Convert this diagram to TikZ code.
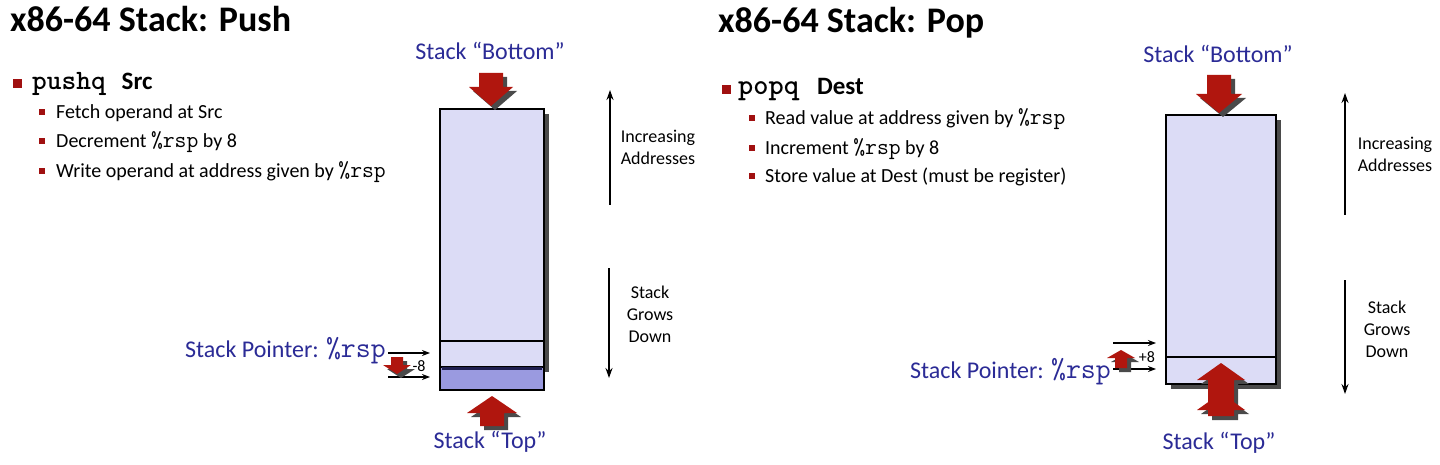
\documentclass[tikz,border=0pt]{standalone}
\usepackage{fontspec}
\setmainfont{Carlito}
\usetikzlibrary{arrows.meta,shadows}
\definecolor{labblue}{HTML}{2B2B96}
\definecolor{arrred}{HTML}{B0160E}
\definecolor{bulred}{HTML}{A01010}
\definecolor{boxfill}{HTML}{DCDCF6}
\definecolor{newfill}{HTML}{9A9AE0}
\definecolor{shadowgray}{HTML}{4A4A4A}
\definecolor{navyband}{HTML}{1E1E50}
\tikzset{
  titletext/.style={anchor=base west, inner sep=0pt, font=\fontsize{36}{40}\selectfont\bfseries},
  headtext/.style={anchor=base west, inner sep=0pt},
  subtext/.style={anchor=base west, inner sep=0pt, font=\fontsize{20}{24}\selectfont},
  bigbullet/.style={fill=bulred, inner sep=0pt, minimum size=9pt},
  smallbullet/.style={fill=bulred, inner sep=0pt, minimum size=6pt},
  bluelab/.style={inner sep=0pt, text=labblue, font=\fontsize{24}{28}\selectfont},
  sidelab/.style={inner sep=0pt, align=center, font=\fontsize{18}{22}\selectfont},
  smalllab/.style={inner sep=0pt, font=\fontsize{16}{18}\selectfont},
  stackbox/.style={draw=black, line width=1.8pt, fill=boxfill, inner sep=0pt, anchor=north west},
  boxshadow/.style={drop shadow={shadow xshift=5pt, shadow yshift=-5pt, fill=shadowgray, opacity=1}},
  ptr/.style={line width=1.6pt, -{Stealth[length=8pt,width=6pt]}},
  vert/.style={line width=1.8pt, -{Stealth[length=10pt,width=7pt]}},
  divline/.style={line width=1.8pt},
  pics/blockarrow/.style args={#1/#2/#3/#4}{code={
    \begin{scope}[shift={(4,4)}]
      \fill[shadowgray] (0,0) -- (#1,#2) -- (#3,#2) -- (#3,#4) -- (-#3,#4) -- (-#3,#2) -- (-#1,#2) -- cycle;
    \end{scope}
    \fill[arrred] (0,0) -- (#1,#2) -- (#3,#2) -- (#3,#4) -- (-#3,#4) -- (-#3,#2) -- (-#1,#2) -- cycle;
  }},
}
\newcommand{\mrsp}[1]{{\ttfamily\fontsize{#1}{#1}\selectfont\%rsp}}
\begin{document}
\begin{tikzpicture}[x=1pt,y=-1pt]
\useasboundingbox[fill=white] (0,0) rectangle (1440,465);

%%%%%%%%%%%%%%%% PUSH %%%%%%%%%%%%%%%%
\node[titletext] (ptitle) at (10,32) {x86-64 Stack: Push};
\node[bigbullet] (pbul) at (17,84) {};
\node[headtext] (phead) at (32,90) {{\ttfamily\bfseries\fontsize{28}{30}\selectfont pushq}\hspace{16pt}{\bfseries\fontsize{25}{28}\selectfont Src}};
\node[smallbullet] (pb1) at (42,112) {};
\node[subtext] (pt1) at (56,119) {Fetch operand at Src};
\node[smallbullet] (pb2) at (42,141) {};
\node[subtext] (pt2) at (56,148) {Decrement \mrsp{23} by 8};
\node[smallbullet] (pb3) at (42,171) {};
\node[subtext] (pt3) at (56,178) {Write operand at address given by \mrsp{23}};

% stack box
\node[stackbox, boxshadow, minimum width=104pt, minimum height=258pt] (pbox) at (439,108) {};
\node[stackbox, fill=newfill, minimum width=104pt, minimum height=23pt] (pnew) at (439,366) {};
\fill[navyband] (442,367) rectangle (542,370);
\draw[divline] (439,341) -- (543,341);

\node[bluelab, anchor=base] (pbot) at (490,60) {Stack “Bottom”};
\node[bluelab, anchor=base] (ptop) at (490,448) {Stack “Top”};
\pic at (491,106) {blockarrow=22/-19/12/-33};
\pic at (492,396) {blockarrow=25/17/12/30};

\node[bluelab, anchor=base east] (psp) at (386,357) {Stack Pointer: \mrsp{29}};
\coordinate (pa1s) at (388,353); \coordinate (pa1e) at (430,353);
\coordinate (pa2s) at (388,377); \coordinate (pa2e) at (430,377);
\draw[ptr] (pa1s) -- (pa1e);
\draw[ptr] (pa2s) -- (pa2e);
\pic at (397,374) {blockarrow=14/-9/6/-17};
\node[smalllab] (pm8) at (419,366) {-8};

\coordinate (pinc1) at (610,205); \coordinate (pinc2) at (610,90);
\draw[vert] (pinc1) -- (pinc2);
\node[sidelab] (pinct) at (658,147) {Increasing\\Addresses};
\coordinate (pgr1) at (609,268); \coordinate (pgr2) at (609,378);
\draw[vert] (pgr1) -- (pgr2);
\node[sidelab] (pgrt) at (650,314) {Stack\\Grows\\Down};

%%%%%%%%%%%%%%%% POP %%%%%%%%%%%%%%%%
\node[titletext] (otitle) at (718,33) {x86-64 Stack: Pop};
\node[bigbullet] (obul) at (726,90) {};
\node[headtext] (ohead) at (738,95) {{\ttfamily\bfseries\fontsize{29}{30}\selectfont popq}\hspace{18pt}{\bfseries\fontsize{25}{28}\selectfont Dest}};
\node[smallbullet] (ob1) at (752,118) {};
\node[subtext] (ot1) at (765,125) {Read value at address given by \mrsp{23}};
\node[smallbullet] (ob2) at (752,148) {};
\node[subtext] (ot2) at (765,155) {Increment \mrsp{23} by 8};
\node[smallbullet] (ob3) at (752,176) {};
\node[subtext] (ot3) at (765,183) {Store value at Dest (must be register)};

\node[stackbox, boxshadow, minimum width=110pt, minimum height=269pt] (obox) at (1165,114) {};
\draw[divline] (1165,357) -- (1275,357);

\node[bluelab, anchor=base] (obot) at (1218,63) {Stack “Bottom”};
\node[bluelab, anchor=base] (otop) at (1219,449) {Stack “Top”};
\pic at (1219,113) {blockarrow=23/-19/12/-38};
\pic at (1221,363) {blockarrow=24/17/13/45};
\pic at (1221,393) {blockarrow=24/17/13/23};

\node[bluelab, anchor=base east] (osp) at (1111,378) {Stack Pointer: \mrsp{29}};
\coordinate (oa1s) at (1113,343); \coordinate (oa1e) at (1156,343);
\coordinate (oa2s) at (1113,369); \coordinate (oa2e) at (1156,369);
\draw[ptr] (oa1s) -- (oa1e);
\draw[ptr] (oa2s) -- (oa2e);
\pic at (1121,350) {blockarrow=14/8/6/18};
\node[smalllab] (op8) at (1147,357) {+8};

\coordinate (oinc1) at (1345,215); \coordinate (oinc2) at (1345,93);
\draw[vert] (oinc1) -- (oinc2);
\node[sidelab] (oinct) at (1395,154) {Increasing\\Addresses};
\coordinate (ogr1) at (1345,280); \coordinate (ogr2) at (1345,394);
\draw[vert] (ogr1) -- (ogr2);
\node[sidelab] (ogrt) at (1387,329) {Stack\\Grows\\Down};
\end{tikzpicture}
\end{document}
